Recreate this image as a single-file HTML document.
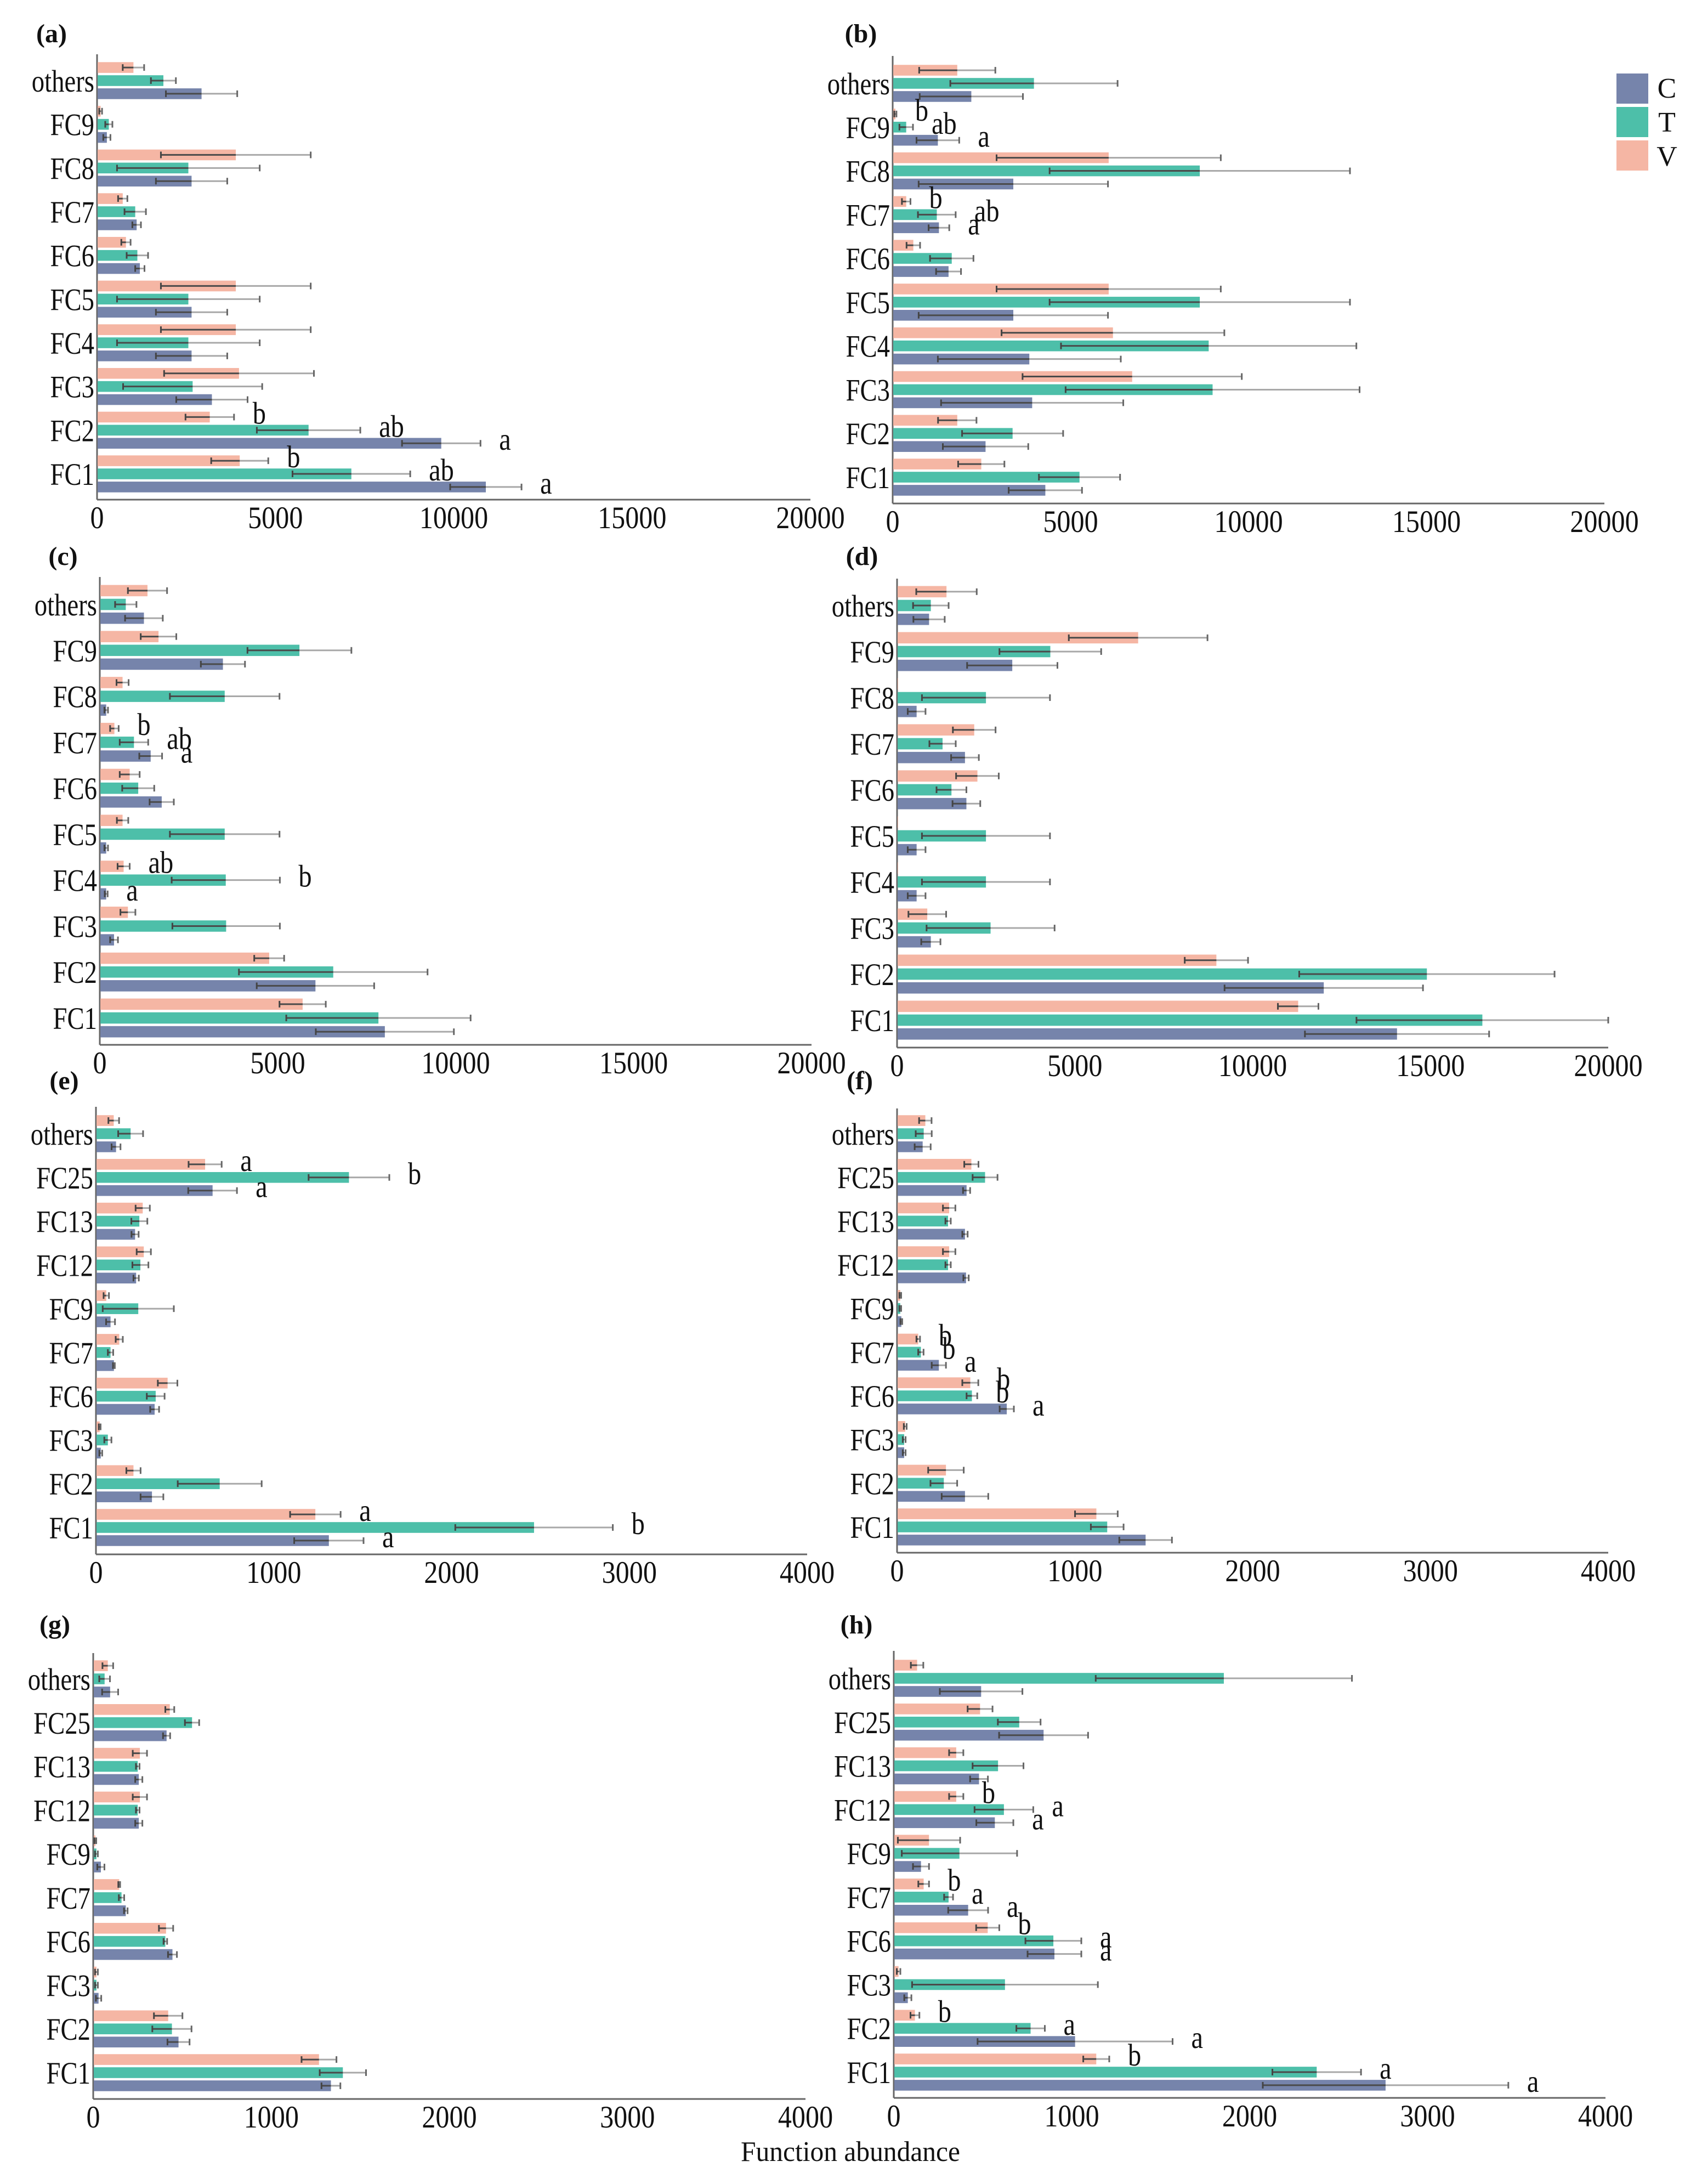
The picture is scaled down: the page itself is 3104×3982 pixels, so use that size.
<!DOCTYPE html>
<html><head><meta charset="utf-8"><title>Function abundance</title>
<style>
html,body{margin:0;padding:0;background:#fff;}
svg{display:block;font-family:"Liberation Serif","DejaVu Serif",serif;}
</style></head>
<body>
<svg id="fig" xmlns="http://www.w3.org/2000/svg" width="3104" height="3982" viewBox="0 0 3104 3982">
<rect x="0" y="0" width="3104" height="3982" fill="#fff"/>
<g>
  <rect x="2948" y="134" width="58" height="55" fill="#7684ab"/>
  <rect x="2948" y="195" width="58" height="55" fill="#4dbfa9"/>
  <rect x="2948" y="256" width="58" height="55" fill="#f5b6a4"/>
  <text x="3040" y="178" font-size="52" text-anchor="middle" fill="#111">C</text>
  <text x="3040" y="240" font-size="52" text-anchor="middle" fill="#111">T</text>
  <text x="3040" y="302" font-size="52" text-anchor="middle" fill="#111">V</text>
</g>
<text x="1551" y="3940" font-size="52" text-anchor="middle" fill="#111" textLength="400" lengthAdjust="spacingAndGlyphs">Function abundance</text>
</svg>
<script>
// ---- categories ----
const catsAD = ["FC1","FC2","FC3","FC4","FC5","FC6","FC7","FC8","FC9","others"];
const catsEH = ["FC1","FC2","FC3","FC6","FC7","FC9","FC12","FC13","FC25","others"];
const ticks20k = [0,5000,10000,15000,20000];
const ticks4k = [0,1000,2000,3000,4000];
// ---- panel (a) ----
const aC  = [10900,9650,3220,2650,2650,1200,1110,2650,275,2930];
const aCe = [1000,1100,1000,1000,1000,130,120,1000,100,1000];
const aT  = [7130,5930,2680,2560,2560,1130,1070,2560,330,1860];
const aTe = [1650,1450,1950,2000,2000,300,300,2000,100,350];
const aV  = [4000,3160,3980,3890,3890,810,720,3890,100,1020];
const aVe = [800,680,2100,2100,2100,130,130,2100,40,300];
const aLetters = [[0,"C","a"],[0,"T","ab"],[0,"V","b"],[1,"C","a"],[1,"T","ab"],[1,"V","b"]];
// ---- panel (b) ----
const bC  = [4290,2610,3920,3840,3390,1570,1300,3390,1270,2210];
const bCe = [1030,1200,2560,2570,2660,350,290,2660,600,1450];
const bT  = [5250,3370,8990,8880,8630,1660,1240,8630,380,3970];
const bTe = [1140,1420,4130,4150,4220,610,530,4220,190,2350];
const bV  = [2490,1815,6730,6190,6070,580,380,6070,76,1815];
const bVe = [650,540,3080,3130,3150,190,120,3150,30,1070];
const bLetters = [[8,"V","b"],[8,"T","ab"],[8,"C","a"],[6,"V","b"],[6,"T","ab"],[6,"C","a"]];
// ---- panel (c) ----
const cC  = [8010,6060,400,180,180,1740,1430,180,3460,1240];
const cCe = [1940,1650,110,40,50,340,320,50,620,530];
const cT  = [7830,6560,3550,3540,3510,1080,960,3510,5610,730];
const cTe = [2590,2650,1510,1520,1540,450,400,1540,1460,300];
const cV  = [5700,4760,790,670,640,840,410,640,1650,1340];
const cVe = [650,420,210,170,160,280,120,170,500,550];
const cLetters = [[6,"V","b"],[6,"T","ab"],[6,"C","a"],[3,"V","ab"],[3,"T","b"],[3,"C","a"]];
// ---- panel (d) ----
const dC  = [14060,12000,950,550,550,1950,1910,550,3240,900];
const dCe = [2590,2790,270,250,250,390,390,250,1270,440];
const dT  = [16460,14900,2630,2500,2500,1530,1280,2500,4310,950];
const dTe = [3540,3590,1800,1800,1800,420,370,1800,1430,500];
const dV  = [11280,8980,850,30,30,2260,2170,30,6780,1390];
const dVe = [570,890,530,0,0,600,600,0,1950,850];
const dLetters = [];
// ---- panel (e) ----
const eC  = [1310,315,27,330,101,82,226,220,656,113];
const eCe = [195,64,8,25,5,25,15,20,137,25];
const eT  = [2464,696,67,336,82,238,250,244,1423,195];
const eTe = [443,236,20,50,15,200,45,45,227,70];
const eV  = [1234,211,21,403,131,58,269,263,614,100];
const eVe = [142,40,5,55,20,15,40,40,93,30];
const eLetters = [[0,"V","a"],[0,"T","b"],[0,"C","a"],[8,"V","a"],[8,"T","b"],[8,"C","a"]];
// ---- panel (f) ----
const fC  = [1398,382,40,617,235,24,388,382,391,144];
const fCe = [148,131,8,40,40,5,15,15,20,45];
const fT  = [1182,263,40,421,134,18,287,287,495,150];
const fTe = [92,75,8,30,15,5,15,15,70,45];
const fV  = [1121,275,46,412,119,18,293,293,418,159];
const fVe = [120,100,8,45,10,5,35,35,40,35];
const fLetters = [[4,"V","b"],[4,"T","b"],[4,"C","a"],[3,"V","b"],[3,"T","b"],[3,"C","a"]];
// ---- panel (g) ----
const gC  = [1335,479,30,445,183,43,256,256,412,95];
const gCe = [53,62,15,25,10,20,20,20,20,45];
const gT  = [1402,442,18,405,159,18,250,250,555,64];
const gTe = [130,110,8,10,15,8,10,10,40,30];
const gV  = [1268,421,18,409,146,12,262,262,430,82];
const gVe = [98,80,8,40,5,5,40,40,25,30];
const gLetters = [];
// ---- panel (h) ----
const hC  = [2764,1019,79,903,418,153,568,479,842,491];
const hCe = [690,548,20,151,112,45,104,50,250,232];
const hT  = [2377,769,625,897,308,369,619,586,705,1855];
const hTe = [249,80,522,157,25,324,165,143,120,720];
const hV  = [1138,119,27,528,168,198,351,351,485,131];
const hVe = [73,25,10,65,30,175,40,40,70,35];
const hLetters = [[0,"V","b"],[0,"T","a"],[0,"C","a"],[1,"V","b"],[1,"T","a"],[1,"C","a"],
                  [3,"V","b"],[3,"T","a"],[3,"C","a"],[4,"V","b"],[4,"T","a"],[4,"C","a"],
                  [6,"V","b"],[6,"T","a"],[6,"C","a"]];

const NS = "http://www.w3.org/2000/svg";
const svg = document.getElementById("fig");
const COLORS = {C:"#7684ab", T:"#4dbfa9", V:"#f5b6a4"};
function mk(tag, attrs, parent){
  const e = document.createElementNS(NS, tag);
  for (const k in attrs) e.setAttribute(k, attrs[k]);
  parent.appendChild(e);
  return e;
}
function drawPanel(cfg){
  const g = mk("g", {}, svg);
  
  
  const xs = v => cfg.x0 + (v / cfg.max) * (cfg.x1 - cfg.x0);
  const n = cfg.cats.length;
  const step = (cfg.fc1Y - cfg.othY) / (n - 1);
  const ys = i => cfg.fc1Y - i * step;
  const off = step * 0.3, bh = off * 0.82;
  const t = mk("text", {x: cfg.tx, y: cfg.ty, "font-size": 48, "font-weight": "bold", "text-anchor": "middle", fill: "#111"}, g);
  
  
  t.textContent = "(" + cfg.id + ")";
  const ax = mk("line", {x1: cfg.x0, y1: cfg.axisY, x2: cfg.x1, y2: cfg.axisY, stroke: "#666", "stroke-width": 3}, g);
  
  
  const ay = mk("line", {x1: cfg.x0, y1: cfg.top, x2: cfg.x0, y2: cfg.axisY, stroke: "#666", "stroke-width": 3}, g);
  
  
  cfg.ticks.forEach(v => {
    const tl = mk("text", {x: 0, y: 0, "font-size": 57, "text-anchor": "middle", fill: "#111",
      transform: "translate(" + xs(v) + "," + (cfg.axisY + 52) + ") scale(0.88,1)"}, g);
    
    
    tl.textContent = String(v);
  });
  const series = [["V", cfg.V, cfg.Ve, -off], ["T", cfg.T, cfg.Te, 0], ["C", cfg.C, cfg.Ce, off]];
  cfg.cats.forEach((c, i) => {
    const cy = ys(i);
    const cl = mk("text", {x: 0, y: 0, "font-size": 57, "text-anchor": "end", fill: "#111",
      transform: "translate(" + (cfg.x0 - 5) + "," + (cy + 20) + ") scale(0.82,1)"}, g);
    
    
    cl.textContent = c;
    series.forEach(([s, vals, errs, o]) => {
      const v = vals[i], e = errs[i], by = cy + o;
      const bx = xs(v);
      const r = mk("rect", {x: cfg.x0 + 1, y: by - bh / 2, width: Math.max(0, bx - cfg.x0 - 1), height: bh, fill: COLORS[s]}, g);
      
      
      if (e > 0) {
        const lo = xs(Math.max(0, v - e)), hi = xs(v + e);
        const eo = mk("line", {x1: bx, y1: by, x2: hi, y2: by, stroke: "#a8a8a8", "stroke-width": 3}, g);
        
        
        const ei = mk("line", {x1: lo, y1: by, x2: bx, y2: by, stroke: "#4a4a4a", "stroke-width": 3}, g);
        
        
        const c1 = mk("line", {x1: lo, y1: by - 6, x2: lo, y2: by + 6, stroke: "#444", "stroke-width": 3}, g);
        
        
        const c2 = mk("line", {x1: hi, y1: by - 6, x2: hi, y2: by + 6, stroke: "#666", "stroke-width": 3}, g);
        
        
      }
    });
  });
  const sIdx = {V: 0, T: 1, C: 2};
  cfg.letters.forEach(([i, s, txt]) => {
    const [, vals, errs, o] = series[sIdx[s]];
    const lx = xs(vals[i] + errs[i]) + 34;
    const lt = mk("text", {x: 0, y: 0, "font-size": 57, fill: "#111",
      transform: "translate(" + lx + "," + (ys(i) + o + 12) + ") scale(0.85,1)"}, g);
    
    
    lt.textContent = txt;
  });
}
drawPanel({id:"a", cats:catsAD, ticks:ticks20k, max:20000, x0:177, x1:1478, top:99, axisY:911, fc1Y:864, othY:147, tx:94, ty:77, C:aC, Ce:aCe, T:aT, Te:aTe, V:aV, Ve:aVe, letters:aLetters});
drawPanel({id:"b", cats:catsAD, ticks:ticks20k, max:20000, x0:1628, x1:2926, top:102, axisY:918, fc1Y:870, othY:152, tx:1570, ty:77, C:bC, Ce:bCe, T:bT, Te:bTe, V:bV, Ve:bVe, letters:bLetters});
drawPanel({id:"c", cats:catsAD, ticks:ticks20k, max:20000, x0:182, x1:1480, top:1052, axisY:1905, fc1Y:1856, othY:1102, tx:115, ty:1030, C:cC, Ce:cCe, T:cT, Te:cTe, V:cV, Ve:cVe, letters:cLetters});
drawPanel({id:"d", cats:catsAD, ticks:ticks20k, max:20000, x0:1636, x1:2933, top:1055, axisY:1910, fc1Y:1860, othY:1104, tx:1572, ty:1030, C:dC, Ce:dCe, T:dT, Te:dTe, V:dV, Ve:dVe, letters:dLetters});
drawPanel({id:"e", cats:catsEH, ticks:ticks4k, max:4000, x0:175, x1:1472, top:2018, axisY:2834, fc1Y:2785, othY:2067, tx:117, ty:1986, C:eC, Ce:eCe, T:eT, Te:eTe, V:eV, Ve:eVe, letters:eLetters});
drawPanel({id:"f", cats:catsEH, ticks:ticks4k, max:4000, x0:1636, x1:2933, top:2021, axisY:2831, fc1Y:2784, othY:2067, tx:1568, ty:1986, C:fC, Ce:fCe, T:fT, Te:fTe, V:fV, Ve:fVe, letters:fLetters});
drawPanel({id:"g", cats:catsEH, ticks:ticks4k, max:4000, x0:170, x1:1469, top:3014, axisY:3827, fc1Y:3779, othY:3061, tx:100, ty:2978, C:gC, Ce:gCe, T:gT, Te:gTe, V:gV, Ve:gVe, letters:gLetters});
drawPanel({id:"h", cats:catsEH, ticks:ticks4k, max:4000, x0:1630, x1:2928, top:3010, axisY:3825, fc1Y:3778, othY:3060, tx:1562, ty:2978, C:hC, Ce:hCe, T:hT, Te:hTe, V:hV, Ve:hVe, letters:hLetters});
</script>
</body></html>
